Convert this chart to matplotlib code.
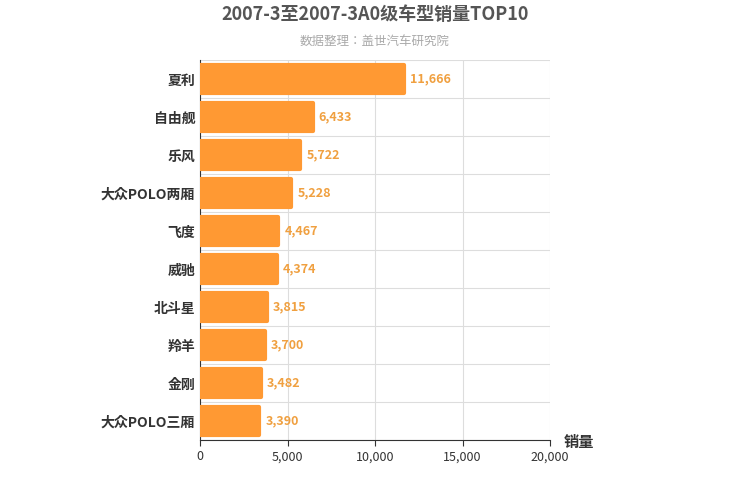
import matplotlib
matplotlib.use("Agg")
import matplotlib.pyplot as plt
from matplotlib import font_manager as fm
import glob

cjk = [f for f in fm.findSystemFonts() if "CJK" in f or "Noto" in f]
fam = None
for f in cjk:
    try:
        fm.fontManager.addfont(f)
    except Exception:
        pass
names = sorted({fe.name for fe in fm.fontManager.ttflist if "CJK" in fe.name})
for cand in ["Noto Sans CJK SC", "Noto Sans SC", "Noto Sans CJK JP"]:
    if cand in names:
        fam = cand
        break
if fam is None and names:
    fam = names[0]
plt.rcParams['font.family'] = [fam, 'DejaVu Sans'] if fam else ['DejaVu Sans']

categories = ["夏利", "自由舰", "乐风", "大众POLO两厢", "飞度", "威驰", "北斗星", "羚羊", "金刚", "大众POLO三厢"]
values = [11666, 6433, 5722, 5228, 4467, 4374, 3815, 3700, 3482, 3390]
xticks = [0, 5000, 10000, 15000, 20000]

fig = plt.figure(figsize=(7.5, 5), dpi=100)
ax = fig.add_axes([200/750, 60/500, 350/750, 380/500])
n = len(categories)
ys = list(range(n))
ax.barh(ys, values, height=0.76, color="#ff9933", edgecolor="#ff9933", linewidth=3, joinstyle="round", zorder=3)
for y, v in zip(ys, values):
    ax.text(v + 350, y, f"{v:,}", va="center", ha="left", fontsize=9, color="#f0a040", fontweight="bold")
ax.set_ylim(n - 0.5, -0.5)
ax.set_xlim(0, 20000)
ax.set_xticks(xticks)
ax.set_xticklabels([f"{t:,}" for t in xticks], fontsize=9, color="#333")
ax.set_yticks(ys)
ax.set_yticklabels(categories, fontsize=10, fontweight="bold", color="#333")
ax.set_yticks([i + 0.5 for i in range(-1, n)], minor=True)
ax.grid(True, axis="x", color="#dddddd", zorder=0)
ax.grid(True, axis="y", which="minor", color="#dddddd", zorder=0)
ax.tick_params(axis="y", which="both", length=0)
ax.tick_params(axis="x", length=4, color="#333")
for s in ["top", "right"]:
    ax.spines[s].set_visible(False)
ax.spines["left"].set_color("#333")
ax.spines["bottom"].set_color("#333")
ax.text(1.04, -0.005, "销量", transform=ax.transAxes, fontsize=11, fontweight="bold", color="#333", ha="left", va="center")
fig.text(375/750, 1 - 15/500, "2007-3至2007-3A0级车型销量TOP10", ha="center", va="center", fontsize=13, fontweight="bold", color="#555")
fig.text(375/750, 1 - 41/500, "数据整理：盖世汽车研究院", ha="center", va="center", fontsize=9, color="#aaaaaa")
fig.savefig("out.png", dpi=100)
